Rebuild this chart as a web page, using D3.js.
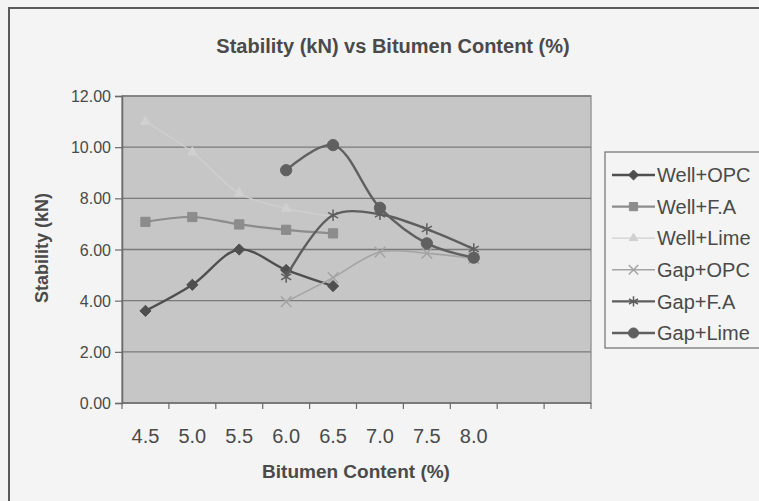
<!DOCTYPE html>
<html>
<head>
<meta charset="utf-8">
<script src="https://cdn.jsdelivr.net/npm/d3@7.9.0/dist/d3.min.js"></script>
<style>
  body { margin: 0; background: #f3f3f3; }
  svg { display: block; font-family: Arial, "Liberation Sans", sans-serif; }
</style>
</head>
<body>
<svg width="759" height="501"></svg>
<script>
// bitumen content slots (Excel left two empty categories on the right)
const categories = ['4.5', '5.0', '5.5', '6.0', '6.5', '7.0', '7.5', '8.0', '', ''];
const yTicks = [0, 2, 4, 6, 8, 10, 12];

const wellOPC  = [3.6, 4.62, 6.0, 5.2, 4.57, null, null, null];
const wellFA   = [7.08, 7.27, 6.98, 6.77, 6.63, null, null, null];
const wellLime = [11.0, 9.8, 8.2, 7.6, 7.3, null, null, null];
const gapOPC   = [null, null, null, 3.96, 4.9, 5.9, 5.85, 5.65];
const gapFA    = [null, null, null, 4.93, 7.34, 7.38, 6.8, 6.02];
const gapLime  = [null, null, null, 9.1, 10.08, 7.63, 6.24, 5.68];

const seriesNames = ['Well+OPC', 'Well+F.A', 'Well+Lime', 'Gap+OPC', 'Gap+F.A', 'Gap+Lime'];
const seriesValues = [wellOPC, wellFA, wellLime, gapOPC, gapFA, gapLime];

// look of each series
const styles = [
  { color: '#4f4f4f', width: 2.4, sym: d3.symbolDiamond2 || d3.symbolDiamond, size: 80, fill: true },
  { color: '#8c8c8c', width: 2.2, sym: d3.symbolSquare, size: 85, fill: true },
  { color: '#d0d0d0', width: 1.2, sym: d3.symbolTriangle, size: 40, fill: true },
  { color: '#a4a4a4', width: 1.6, sym: d3.symbolTimes, size: 75, fill: false },
  { color: '#5e5e5e', width: 2.4, sym: d3.symbolAsterisk, size: 95, fill: false },
  { color: '#606060', width: 2.4, sym: d3.symbolCircle, size: 100, fill: true },
];

const svg = d3.select('svg');
const ink = '#4a4a4a';

// outer chart frame
svg.append('rect').attr('x', 9).attr('y', 8).attr('width', 770).attr('height', 520)
  .attr('fill', '#f4f4f4').attr('stroke', '#5a5a5a').attr('stroke-width', 2);

const x = d3.scaleBand().domain(d3.range(categories.length)).range([122, 591]);
const y = d3.scaleLinear().domain([0, 12]).range([403, 96]);
const cx = i => x(i) + x.bandwidth() / 2;

// plot area
svg.append('rect').attr('x', 122).attr('y', 96).attr('width', 469).attr('height', 307)
  .attr('fill', '#c6c6c6').attr('stroke', '#9a9a9a').attr('stroke-width', 1.5);

svg.append('g').selectAll('line').data(yTicks.slice(1)).join('line')
  .attr('x1', 122).attr('x2', 591)
  .attr('y1', d => y(d)).attr('y2', d => y(d))
  .attr('stroke', '#7a7a7a').attr('stroke-width', 1.4);

// y axis
const yAxis = svg.append('g').attr('transform', 'translate(122,0)')
  .call(d3.axisLeft(y).tickValues(yTicks).tickFormat(d3.format('.2f')).tickSize(7).tickPadding(4));
yAxis.select('.domain').attr('stroke', '#6a6a6a').attr('stroke-width', 1.5);
yAxis.selectAll('.tick line').attr('stroke', '#6a6a6a').attr('stroke-width', 1.2);
yAxis.selectAll('text').attr('fill', ink).attr('font-size', 16).attr('dy', '0.35em');

// x axis: ticks at category borders, labels at centres
const xg = svg.append('g');
xg.append('line').attr('x1', 122).attr('x2', 591).attr('y1', 403).attr('y2', 403)
  .attr('stroke', '#6a6a6a').attr('stroke-width', 1.5);
xg.selectAll('line.tk').data(d3.range(categories.length + 1)).join('line')
  .attr('class', 'tk')
  .attr('x1', i => 122 + i * x.step()).attr('x2', i => 122 + i * x.step())
  .attr('y1', 403).attr('y2', 409)
  .attr('stroke', '#6a6a6a').attr('stroke-width', 1.2);
xg.selectAll('text').data(categories).join('text')
  .attr('x', (d, i) => cx(i)).attr('y', 443)
  .attr('text-anchor', 'middle').attr('font-size', 20).attr('fill', ink)
  .text(d => d);

// titles
svg.append('text').attr('x', 393).attr('y', 53).attr('text-anchor', 'middle')
  .attr('font-size', 20).attr('font-weight', 'bold').attr('fill', ink)
  .text('Stability (kN) vs Bitumen Content (%)');
svg.append('text').attr('x', 356).attr('y', 478).attr('text-anchor', 'middle')
  .attr('font-size', 19).attr('font-weight', 'bold').attr('fill', ink)
  .text('Bitumen Content (%)');
svg.append('text').attr('transform', 'translate(48,248) rotate(-90)').attr('text-anchor', 'middle')
  .attr('font-size', 18).attr('font-weight', 'bold').attr('fill', ink)
  .text('Stability (kN)');

// series
const line = d3.line()
  .defined(d => d != null)
  .x((d, i) => cx(i))
  .y(d => y(d))
  .curve(d3.curveCatmullRom.alpha(0.5));

seriesValues.forEach((vals, k) => {
  const s = styles[k];
  svg.append('path').attr('d', line(vals))
    .attr('fill', 'none').attr('stroke', s.color).attr('stroke-width', s.width);
  svg.append('g').selectAll('path')
    .data(vals.map((v, i) => ({ v, i })).filter(d => d.v != null))
    .join('path')
    .attr('transform', d => `translate(${cx(d.i)},${y(d.v)})`)
    .attr('d', d3.symbol(s.sym, s.size))
    .attr('fill', s.fill ? s.color : 'none')
    .attr('stroke', s.color).attr('stroke-width', s.fill ? 1 : 1.5);
});

// legend
const lg = svg.append('g');
lg.append('rect').attr('x', 605).attr('y', 152).attr('width', 160).attr('height', 196)
  .attr('fill', '#f4f4f4').attr('stroke', '#7a7a7a').attr('stroke-width', 1.3);
seriesNames.forEach((name, k) => {
  const s = styles[k];
  const ly = 175 + k * 31.6;
  lg.append('line').attr('x1', 612).attr('x2', 655).attr('y1', ly).attr('y2', ly)
    .attr('stroke', s.color).attr('stroke-width', s.width);
  lg.append('path').attr('transform', `translate(633.5,${ly})`)
    .attr('d', d3.symbol(s.sym, s.size * 0.8))
    .attr('fill', s.fill ? s.color : 'none')
    .attr('stroke', s.color).attr('stroke-width', s.fill ? 1 : 1.5);
  lg.append('text').attr('x', 657).attr('y', ly).attr('dy', '0.36em')
    .attr('font-size', 20).attr('fill', ink).text(name);
});
</script>
</body>
</html>
